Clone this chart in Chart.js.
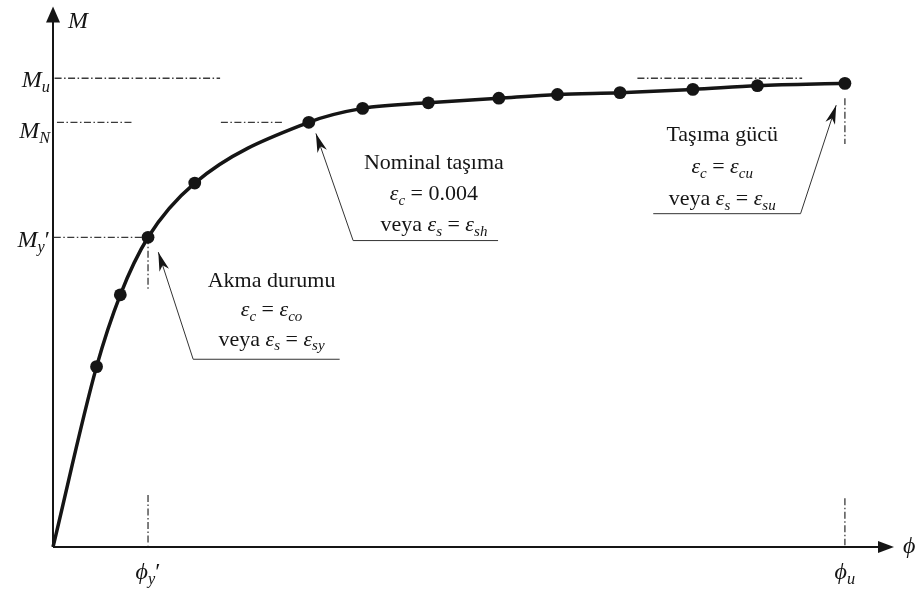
<!DOCTYPE html>
<html>
<head>
<meta charset="utf-8">
<script src="https://cdn.jsdelivr.net/npm/chart.js@4.4.1/dist/chart.umd.min.js"></script>
<style>
  html, body { margin: 0; padding: 0; background: #ffffff; }
  #wrap { width: 917px; height: 589px; }
</style>
</head>
<body>
<div id="wrap"><canvas id="c" width="917" height="589"></canvas></div>
<script>
// Moment–curvature curve (relative units: ϕu = 100, Mu = 100)
const curvature = [0, 5.5, 8.5, 12.0, 17.9, 32.3, 39.1, 47.4, 56.3, 63.7, 71.6, 80.8, 88.95, 100];
const moment    = [0, 38.9, 54.4, 66.8, 78.5, 91.6, 94.6, 95.8, 96.8, 97.6, 98.0, 98.7, 99.5, 100];
const hasMarker = [false, true, true, true, true, true, true, true, true, true, true, true, true, true];

// characteristic states on the curve
const YIELD = 3, NOMINAL = 5, ULTIMATE = 13;
const MU_LEVEL = 101.1;            // M_u reference line
const M_Y = moment[YIELD], M_N = moment[NOMINAL];
const PHI_Y = curvature[YIELD], PHI_U = curvature[ULTIMATE];

// dash-dot reference segments [[x1, y1], [x2, y2]]
const guideSegments = [
  [[0.2, MU_LEVEL], [21.1, MU_LEVEL]],
  [[73.8, MU_LEVEL], [94.6, MU_LEVEL]],
  [[0.5, M_N], [10.1, M_N]],
  [[21.2, M_N], [29.0, M_N]],
  [[0.1, M_Y], [PHI_Y, M_Y]],
  [[PHI_Y, M_Y], [PHI_Y, 55.3]],
  [[PHI_Y, 11.2], [PHI_Y, 0.4]],
  [[PHI_U, 96.8], [PHI_U, 86.9]],
  [[PHI_U, 10.5], [PHI_U, 0.4]]
];

// axis labels: {..} italic, _{..} italic subscript
const yTickLabels = [
  { text: '{M}_{u}', y: 101.1 },
  { text: '{M}_{N}', y: M_N - 1.4 },
  { text: '{M}_{y}′', y: M_Y - 0.2 }
];
const xTickLabels = [
  { text: '{ϕ}_{y}′', x: PHI_Y },
  { text: '{ϕ}_{u}', x: PHI_U }
];
const yAxisTitle = '{M}';
const xAxisTitle = '{ϕ}';

// callouts: text block centre, first baseline, underline [x1, x2, y], arrow tip
const callouts = [
  { lines: ['Akma durumu', '{ε}_{c} = {ε}_{co}', 'veya {ε}_{s} = {ε}_{sy}'],
    x: 27.6, y: 56.1, gap: 29.5, rule: [17.7, 36.2, 40.6], from: 'left', tip: [13.3, 63.6] },
  { lines: ['Nominal taşıma', '{ε}_{c} = 0.004', 'veya {ε}_{s} = {ε}_{sh}'],
    x: 48.1, y: 81.5, gap: 31, rule: [37.9, 56.2, 66.2], from: 'left', tip: [33.2, 89.2] },
  { lines: ['Taşıma gücü', '{ε}_{c} = {ε}_{cu}', 'veya {ε}_{s} = {ε}_{su}'],
    x: 84.5, y: 87.5, gap: 32, rule: [75.8, 94.4, 72.0], from: 'right', tip: [98.9, 95.3] }
];

const INK = '#151515';
const SERIF = '"Liberation Serif", "Times New Roman", "DejaVu Serif", serif';

// parse a label string into runs
function parseRich(str) {
  const runs = [];
  let buf = '';
  let i = 0;
  const flush = () => { if (buf) { runs.push({ t: buf, it: false, sub: false }); buf = ''; } };
  while (i < str.length) {
    if (str[i] === '_' && str[i + 1] === '{') {
      flush();
      const j = str.indexOf('}', i);
      runs.push({ t: str.slice(i + 2, j), it: true, sub: true });
      i = j + 1;
    } else if (str[i] === '{') {
      flush();
      const j = str.indexOf('}', i);
      runs.push({ t: str.slice(i + 1, j), it: true, sub: false });
      i = j + 1;
    } else {
      buf += str[i];
      i++;
    }
  }
  flush();
  return runs;
}

function runFont(r, size) {
  const s = r.sub ? size * 0.68 : size;
  return (r.it ? 'italic ' : '') + s.toFixed(1) + 'px ' + SERIF;
}

function drawRich(ctx, str, x, baseline, size, align) {
  const runs = parseRich(str);
  let total = 0;
  runs.forEach(r => { ctx.font = runFont(r, size); r.w = ctx.measureText(r.t).width; total += r.w; });
  let cx = align === 'center' ? x - total / 2 : align === 'right' ? x - total : x;
  ctx.textAlign = 'left';
  ctx.textBaseline = 'alphabetic';
  runs.forEach(r => {
    ctx.font = runFont(r, size);
    ctx.fillText(r.t, cx, baseline + (r.sub ? size * 0.2 : 0));
    cx += r.w;
  });
}

function arrowHead(ctx, sx, sy, tx, ty, len, half) {
  const a = Math.atan2(ty - sy, tx - sx);
  const cos = Math.cos(a), sin = Math.sin(a);
  const bx = tx - len * cos, by = ty - len * sin;
  const mx = tx - len * 0.72 * cos, my = ty - len * 0.72 * sin;
  ctx.beginPath();
  ctx.moveTo(tx, ty);
  ctx.lineTo(bx - half * sin, by + half * cos);
  ctx.lineTo(mx, my);
  ctx.lineTo(bx + half * sin, by - half * cos);
  ctx.closePath();
  ctx.fill();
}

// axes with arrowheads, drawn beneath the curve
const axesPlugin = {
  id: 'axesArrows',
  beforeDatasetsDraw(chart) {
    const { ctx, chartArea: a, scales: { x, y } } = chart;
    const ox = x.getPixelForValue(0), oy = y.getPixelForValue(0);
    ctx.save();
    ctx.strokeStyle = INK;
    ctx.fillStyle = INK;
    ctx.lineWidth = 2;
    ctx.beginPath();
    ctx.moveTo(ox, oy); ctx.lineTo(ox, a.top + 10);
    ctx.moveTo(ox, oy); ctx.lineTo(a.right - 10, oy);
    ctx.stroke();
    // upward arrow
    ctx.beginPath();
    ctx.moveTo(ox, a.top);
    ctx.lineTo(ox - 7, a.top + 16);
    ctx.lineTo(ox + 7, a.top + 16);
    ctx.closePath(); ctx.fill();
    // rightward arrow
    ctx.beginPath();
    ctx.moveTo(a.right, oy);
    ctx.lineTo(a.right - 16, oy - 6);
    ctx.lineTo(a.right - 16, oy + 6);
    ctx.closePath(); ctx.fill();
    ctx.restore();
  },
  afterDraw(chart) {
    const { ctx, chartArea: a, scales: { x, y } } = chart;
    const ox = x.getPixelForValue(0), oy = y.getPixelForValue(0);
    ctx.save();
    ctx.fillStyle = INK;
    drawRich(ctx, yAxisTitle, ox + 15, a.top + 22, 24, 'left');
    drawRich(ctx, xAxisTitle, a.right + 9, oy + 6, 24, 'left');
    yTickLabels.forEach(l => drawRich(ctx, l.text, ox - 3, y.getPixelForValue(l.y) + 9, 24, 'right'));
    xTickLabels.forEach(l => drawRich(ctx, l.text, x.getPixelForValue(l.x), oy + 32, 24, 'center'));

    // callouts
    callouts.forEach(c => {
      const cx = x.getPixelForValue(c.x);
      const by = y.getPixelForValue(c.y);
      c.lines.forEach((ln, i) => drawRich(ctx, ln, cx, by + i * c.gap, 22, 'center'));
      const rx1 = x.getPixelForValue(c.rule[0]), rx2 = x.getPixelForValue(c.rule[1]);
      const ry = y.getPixelForValue(c.rule[2]);
      const tx = x.getPixelForValue(c.tip[0]), ty = y.getPixelForValue(c.tip[1]);
      const sx = c.from === 'left' ? rx1 : rx2;
      ctx.strokeStyle = '#333';
      ctx.lineWidth = 1;
      ctx.beginPath();
      ctx.moveTo(rx1, ry + 0.5); ctx.lineTo(rx2, ry + 0.5);
      ctx.moveTo(sx, ry + 0.5); ctx.lineTo(tx, ty);
      ctx.stroke();
      ctx.fillStyle = INK;
      arrowHead(ctx, sx, ry, tx, ty, 19, 5);
    });
    ctx.restore();
  }
};

const guideDatasets = guideSegments.map(seg => ({
  data: seg.map(p => ({ x: p[0], y: p[1] })),
  showLine: true,
  borderColor: '#3a3a3a',
  borderWidth: 1.3,
  borderDash: [7, 2.5, 1.5, 2.5],
  pointRadius: 0,
  fill: false,
  clip: false,
  order: 2
}));

new Chart(document.getElementById('c'), {
  type: 'scatter',
  data: {
    datasets: [
      {
        data: curvature.map((v, i) => ({ x: v, y: moment[i] })),
        showLine: true,
        borderColor: INK,
        borderWidth: 3.5,
        cubicInterpolationMode: 'monotone',
        pointRadius: hasMarker.map(m => (m ? 6.4 : 0)),
        pointBackgroundColor: INK,
        pointBorderColor: INK,
        pointBorderWidth: 0,
        fill: false,
        clip: false,
        order: 1
      },
      ...guideDatasets
    ]
  },
  options: {
    responsive: false,
    animation: false,
    events: [],
    layout: { padding: { left: 53, right: 23, top: 5, bottom: 42 } },
    plugins: { legend: { display: false }, tooltip: { enabled: false } },
    scales: {
      x: { type: 'linear', display: false, min: 0, max: 106.2 },
      y: { type: 'linear', display: false, min: 0, max: 116.6 }
    }
  },
  plugins: [axesPlugin]
});
</script>
</body>
</html>
